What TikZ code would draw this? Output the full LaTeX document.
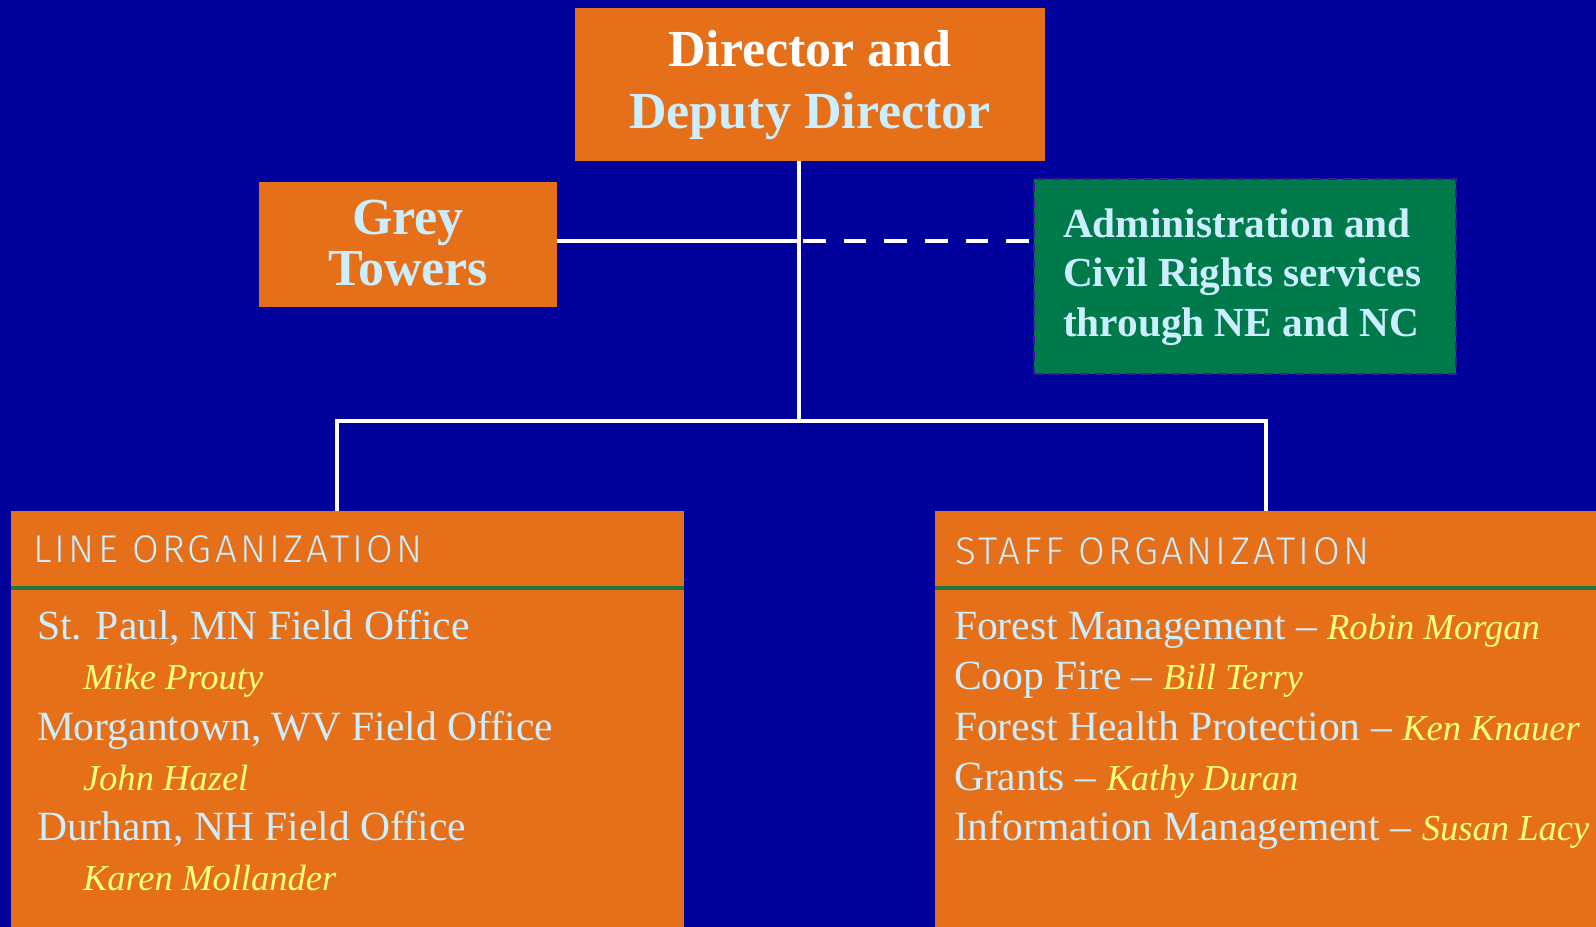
\documentclass[tikz,border=0pt]{standalone}
\usepackage{fontspec}
\setmainfont{Liberation Serif}
\IfFontExistsTF{Fira Sans Light}{\newfontfamily\hdrfont[LetterSpace=8.5]{Fira Sans Light}}{\newfontfamily\hdrfont[LetterSpace=8.5]{Fira Sans}}
\definecolor{bgblue}{HTML}{00009C}
\definecolor{orng}{HTML}{E57019}
\definecolor{grn}{HTML}{007A4B}
\definecolor{sepgrn}{HTML}{1E7A3C}
\definecolor{ltblue}{HTML}{CCEEFF}
\definecolor{ylw}{HTML}{FFFF80}
\definecolor{purp}{HTML}{3A1A8C}
\tikzset{
  box/.style={rectangle, fill=orng, draw=none, inner sep=0pt},
  greenbox/.style={rectangle, fill=grn, draw=purp, line width=1.8pt, dash pattern=on 7pt off 4.5pt, inner sep=0pt},
  txt/.style={inner sep=0pt, outer sep=0pt, text=ltblue},
  bodytxt/.style={txt, anchor=base west, font=\fontsize{31.2}{36}\selectfont},
  nametxt/.style={inner sep=0pt, outer sep=0pt, anchor=base west, text=ylw, font=\fontsize{27.4}{32}\selectfont\itshape},
  hdrtxt/.style={txt, anchor=base west, font=\hdrfont\fontsize{29}{33}\selectfont},
  titletxt/.style={txt, anchor=base, font=\fontsize{39}{45}\selectfont\bfseries},
  admintxt/.style={txt, anchor=base west, font=\fontsize{31}{36}\selectfont\bfseries},
  conn/.style={draw=white, line width=3pt},
  dashconn/.style={draw=white, line width=3pt, dash pattern=on 17pt off 13.5pt}
}
\newcommand{\nm}[1]{{\fontsize{27.4}{32}\selectfont\itshape\color{ylw}#1}}
\begin{document}
\begin{tikzpicture}[x=0.75pt,y=-0.75pt]
\fill[bgblue] (0,0) rectangle (1596,927);
\useasboundingbox (0,0) rectangle (1596,927);

% boxes
\node[box, minimum width=352.5pt, minimum height=114.75pt] (director) at (810,84.5) {};
\node[box, minimum width=223.5pt, minimum height=93.75pt] (grey) at (408,244.5) {};
\node[greenbox, minimum width=316.5pt, minimum height=146.25pt] (admin) at (1245,276.5) {};
\node[box, minimum width=504.75pt, minimum height=321.75pt] (line) at (347.5,725.5) {};
\node[box, minimum width=506.25pt, minimum height=321.75pt] (staff) at (1272.5,725.5) {};

% separators
\draw[sepgrn, line width=2.4pt] (11,588) -- (684,588);
\draw[sepgrn, line width=2.4pt] (935,588) -- (1596,588);

% connectors
\coordinate (j1) at (799,241);
\coordinate (bus) at (799,421);
\coordinate (bl) at (337,421);
\coordinate (br) at (1266,421);
\draw[conn] (j1 |- director.south) -- (bus);
\draw[conn] (grey.east |- j1) -- (j1);
\draw[dashconn] ([xshift=3pt]j1) -- (admin.west |- j1);
\draw[conn] (bl |- line.north) -- (bl) -- (br) -- (br |- staff.north);

% title texts
\node[titletxt, text=white] (t1) at (810,67) {Director and};
\node[titletxt] (t2) at (810,129) {Deputy Director};
\node[titletxt] (g1) at (408,235) {Grey};
\node[titletxt] (g2) at (408,286) {Towers};
\node[admintxt] (a1) at (1063,238) {Administration and};
\node[admintxt] (a2) at (1063,287) {Civil Rights services};
\node[admintxt] (a3) at (1063,337) {through NE and NC};

% headers
\node[hdrtxt] (h1) at (33,562) {LINE ORGANIZATION};
\node[hdrtxt] (h2) at (955,564) {STAFF ORGANIZATION};

% line organization
\node[bodytxt] (l1) at (37,639) {St. Paul, MN Field Office};
\node[nametxt] (l2) at (83,689) {Mike Prouty};
\node[bodytxt] (l3) at (37,740) {Morgantown, WV Field Office};
\node[nametxt] (l4) at (83,790) {John Hazel};
\node[bodytxt] (l5) at (37,840) {Durham, NH Field Office};
\node[nametxt] (l6) at (83,890) {Karen Mollander};

% staff organization
\node[bodytxt] (s1) at (954,639) {Forest Management -- \nm{Robin Morgan}};
\node[bodytxt] (s2) at (954,689) {Coop Fire -- \nm{Bill Terry}};
\node[bodytxt] (s3) at (954,740) {Forest Health Protection -- \nm{Ken Knauer}};
\node[bodytxt] (s4) at (954,790) {Grants -- \nm{Kathy Duran}};
\node[bodytxt] (s5) at (954,840) {Information Management -- \nm{Susan Lacy}};
\end{tikzpicture}
\end{document}
